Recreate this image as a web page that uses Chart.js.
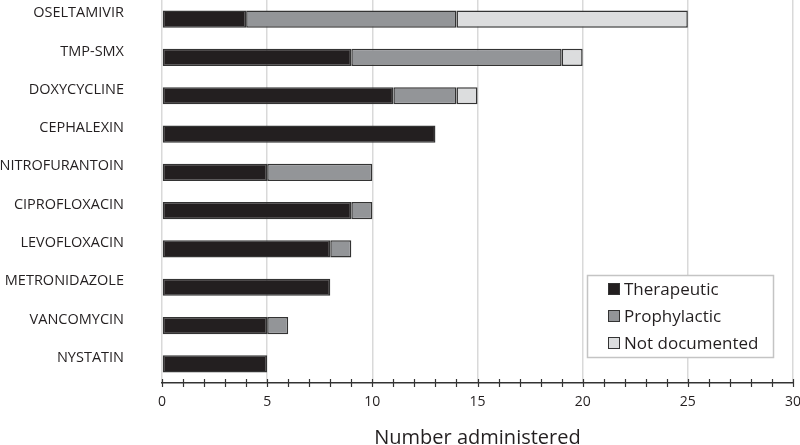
<!DOCTYPE html>
<html>
<head>
<meta charset="utf-8">
<script src="https://cdn.jsdelivr.net/npm/chart.js@4"></script>
<style>
  html, body { margin: 0; padding: 0; background: #fff; }
  #wrap { width: 800px; height: 445px; }
</style>
</head>
<body>
<div id="wrap"><canvas id="myChart" width="800" height="445"></canvas></div>
<script>
// antibiotiques, du haut vers le bas
var drugs = ["OSELTAMIVIR", "TMP-SMX", "DOXYCYCLINE", "CEPHALEXIN", "NITROFURANTOIN",
             "CIPROFLOXACIN", "LEVOFLOXACIN", "METRONIDAZOLE", "VANCOMYCIN", "NYSTATIN"];
var therapeutic   = [4, 9, 11, 13, 5, 9, 8, 8, 5, 5];
var prophylactic  = [10, 10, 3, 0, 5, 1, 1, 0, 1, 0];
var notDocumented = [11, 1, 1, 0, 0, 0, 0, 0, 0, 0];
var xTicks = [0, 5, 10, 15, 20, 25, 30];

var ink = "#231f20";

// legende dessinee dans la zone du graphique (en bas a droite)
var boxLegend = {
    id: "boxLegend",
    afterDraw: function(chart) {
        var ctx = chart.ctx;
        var x0 = 587, y0 = 275, w = 186, h = 82;
        ctx.save();
        ctx.fillStyle = "#fff";
        ctx.fillRect(x0, y0, w, h);
        ctx.strokeStyle = "#c4c4c4";
        ctx.lineWidth = 1.5;
        ctx.strokeRect(x0 + 0.5, y0 + 0.5, w, h);
        ctx.font = "17px 'Open Sans'";
        ctx.textBaseline = "middle";
        chart.data.datasets.forEach(function(ds, i) {
            var cy = 289 + i * 27;
            ctx.fillStyle = ds.backgroundColor;
            ctx.fillRect(608, cy - 6, 12, 12);
            ctx.strokeStyle = "#333";
            ctx.lineWidth = 1;
            ctx.strokeRect(608.5, cy - 5.5, 11, 11);
            ctx.fillStyle = ink;
            ctx.fillText(ds.label, 624, cy + 1);
        });
        ctx.restore();
    }
};

// petites graduations qui traversent l'axe
var crossTicks = {
    id: "crossTicks",
    afterDraw: function(chart) {
        var sx = chart.scales.x, ctx = chart.ctx;
        var yAxis = chart.chartArea.bottom;
        ctx.save();
        ctx.strokeStyle = "#333";
        ctx.lineWidth = 1.2;
        for (var v = 0; v <= 30; v++) {
            var px = Math.round(sx.getPixelForValue(v)) + 0.5;
            ctx.beginPath();
            ctx.moveTo(px, yAxis - 4);
            ctx.lineTo(px, yAxis + 4);
            ctx.stroke();
        }
        ctx.restore();
    }
};

var ctx = document.getElementById("myChart").getContext("2d");
var myChart = new Chart(ctx, {
    type: "bar",
    data: {
        labels: drugs,
        datasets: [
            { label: "Therapeutic", data: therapeutic, backgroundColor: "#231f20" },
            { label: "Prophylactic", data: prophylactic, backgroundColor: "#939598" },
            { label: "Not documented", data: notDocumented, backgroundColor: "#dcddde" }
        ]
    },
    options: {
        indexAxis: "y",
        responsive: false,
        animation: false,
        layout: { padding: { left: 0, right: 7, top: 0, bottom: 0 } },
        datasets: {
            bar: {
                borderColor: "#333",
                borderWidth: 1.5,
                borderSkipped: false,
                categoryPercentage: 1,
                barPercentage: 0.45
            }
        },
        plugins: {
            legend: { display: false },
            tooltip: { enabled: false }
        },
        scales: {
            x: {
                stacked: true,
                min: 0,
                max: 30,
                afterBuildTicks: function(scale) {
                    scale.ticks = xTicks.map(function(v) { return { value: v }; });
                },
                afterFit: function(scale) {
                    scale.paddingRight = 0;
                    scale.paddingLeft = 0;
                    scale.height = 62;
                },
                grid: { color: "#d9d9d9", lineWidth: 1.5, drawTicks: false },
                border: { color: "#333", width: 1.5 },
                ticks: { color: ink, font: { family: "Open Sans", size: 14 }, padding: 11 },
                title: {
                    display: true,
                    text: "Number administered",
                    color: ink,
                    font: { family: "Open Sans", size: 20, lineHeight: 1 },
                    padding: { top: 15, bottom: -3 }
                }
            },
            y: {
                stacked: true,
                afterFit: function(scale) {
                    scale.width = 162;
                    scale.paddingTop = 0;
                    scale.paddingBottom = 0;
                },
                grid: { display: false },
                border: { display: false },
                ticks: {
                    color: ink,
                    font: { family: "Open Sans", size: 14.5 },
                    padding: 30,
                    labelOffset: -6
                }
            }
        }
    },
    plugins: [crossTicks, boxLegend]
});
</script>
</body>
</html>
